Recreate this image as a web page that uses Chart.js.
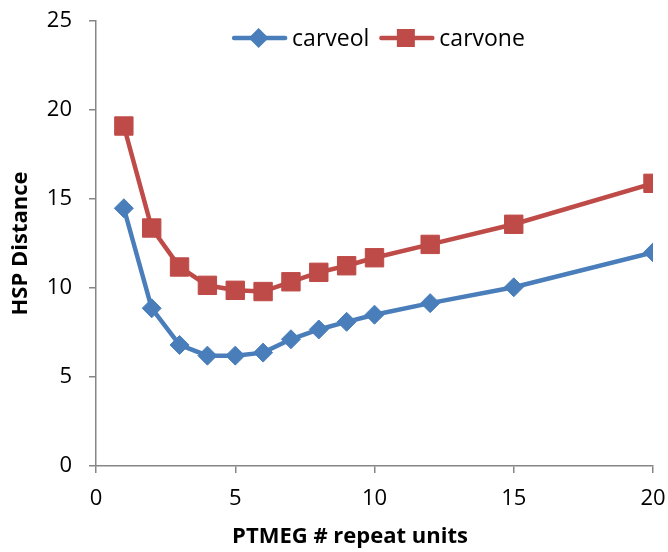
<!DOCTYPE html>
<html>
<head>
<meta charset="utf-8">
<script src="https://cdn.jsdelivr.net/npm/chart.js@4/dist/chart.umd.min.js"></script>
<style>
  html, body { margin: 0; padding: 0; background: #fff; }
  #wrap { width: 668px; height: 552px; }
</style>
</head>
<body>
<div id="wrap"><canvas id="chart" width="668" height="552"></canvas></div>
<script>
// values
const repeat_units = [1, 2, 3, 4, 5, 6, 7, 8, 9, 10, 12, 15, 20]
const carveol = [14.48, 8.86, 6.8, 6.2, 6.2, 6.37, 7.12, 7.67, 8.1, 8.5, 9.15, 10.04, 12.0]
const carvone = [19.1, 13.37, 11.18, 10.15, 9.87, 9.8, 10.35, 10.88, 11.25, 11.7, 12.45, 13.58, 15.88]
const x_ticks = [0, 5, 10, 15, 20]
const y_ticks = [0, 5, 10, 15, 20, 25]
const x_title = 'PTMEG # repeat units'
const y_title = 'HSP Distance'

const blue = '#4a7ebb'
const red = '#be4b48'
const axis_gray = '#868686'
const font_family = "'Open Sans', 'Noto Sans', sans-serif"

function points(ys){
    return repeat_units.map((x, i) => ({x: x, y: ys[i]}))
}

// excel style legend inside the plot (line + marker + label) and the x title,
// which excel centres on the whole chart rather than on the plot area
const extras = {
    id: 'extras',
    afterDraw(ch){
        let ctx = ch.ctx
        let area = ch.chartArea
        let sym_w = 55
        let gap = 5
        let item_gap = 10
        ctx.save()
        ctx.font = '23px ' + font_family
        let items = ch.data.datasets.map(ds => ({ds: ds, w: ctx.measureText(ds.label).width}))
        let total = items.reduce((s, it) => s + sym_w + gap + it.w, 0) + item_gap * (items.length - 1)
        let x = (area.left + area.right) / 2 + 4 - total / 2
        let y = area.top + 17
        items.forEach(it => {
            let ds = it.ds
            ctx.strokeStyle = ds.borderColor
            ctx.lineWidth = 4.5
            ctx.lineCap = 'round'
            ctx.beginPath()
            ctx.moveTo(x + 2, y)
            ctx.lineTo(x + sym_w - 2, y)
            ctx.stroke()
            ctx.fillStyle = ds.backgroundColor
            let cx = x + sym_w / 2 - 1
            if (ds.pointStyle == 'rectRot') {
                ctx.beginPath()
                ctx.moveTo(cx, y - 10)
                ctx.lineTo(cx + 10, y)
                ctx.lineTo(cx, y + 10)
                ctx.lineTo(cx - 10, y)
                ctx.closePath()
                ctx.fill()
            } else {
                ctx.fillRect(cx - 9, y - 9, 18, 18)
            }
            ctx.fillStyle = '#000'
            ctx.textBaseline = 'middle'
            ctx.textAlign = 'left'
            ctx.fillText(ds.label, x + sym_w + gap, y + 1)
            x += sym_w + gap + it.w + item_gap
        })

        ctx.font = 'bold 22px ' + font_family
        ctx.textAlign = 'center'
        ctx.textBaseline = 'middle'
        ctx.fillStyle = '#000'
        ctx.fillText(x_title, 350, 537)
        ctx.restore()
    }
}

let chart = document.querySelector('#chart')
new Chart(chart, {
    type: 'line',
    data: {
        datasets: [{
            label: 'carveol',
            data: points(carveol),
            borderColor: blue,
            backgroundColor: blue,
            borderWidth: 4.5,
            pointStyle: 'rectRot',
            pointRadius: 9.5,
            pointHoverRadius: 9.5,
            pointBorderWidth: 1,
            tension: 0
        }, {
            label: 'carvone',
            data: points(carvone),
            borderColor: red,
            backgroundColor: red,
            borderWidth: 4.5,
            pointStyle: 'rect',
            pointRadius: 13,
            pointHoverRadius: 13,
            pointBorderWidth: 1,
            tension: 0
        }]
    },
    options: {
        responsive: false,
        animation: false,
        layout: { padding: { left: 8, right: 15, top: 21, bottom: 2 } },
        plugins: {
            tooltip: { enabled: false },
            legend: { display: false }
        },
        scales: {
            x: {
                type: 'linear',
                min: 0,
                max: 20,
                afterBuildTicks: function(axis){ axis.ticks = x_ticks.map(v => ({value: v})) },
                afterFit: function(axis){
                    axis.height = 84
                    axis.paddingLeft = 0
                    axis.paddingRight = 0
                },
                border: { color: axis_gray, width: 1.5 },
                grid: { drawOnChartArea: false, drawTicks: true, color: axis_gray, tickColor: axis_gray, tickLength: 7, lineWidth: 1.5 },
                ticks: { color: '#000', font: { family: font_family, size: 22 }, padding: 13 },
                title: { display: false }
            },
            y: {
                min: 0,
                max: 25,
                afterBuildTicks: function(axis){ axis.ticks = y_ticks.map(v => ({value: v})) },
                afterFit: function(axis){
                    axis.width = 88
                    axis.paddingTop = 0
                    axis.paddingBottom = 0
                },
                border: { color: axis_gray, width: 1.5 },
                grid: { drawOnChartArea: false, drawTicks: true, color: axis_gray, tickColor: axis_gray, tickLength: 7, lineWidth: 1.5 },
                ticks: { color: '#000', font: { family: font_family, size: 22 }, padding: 17 },
                title: {
                    display: true,
                    text: y_title,
                    color: '#000',
                    font: { family: font_family, size: 22, weight: 'bold' },
                    padding: { top: 0, bottom: 0 }
                }
            }
        }
    },
    plugins: [extras]
})
</script>
</body>
</html>
